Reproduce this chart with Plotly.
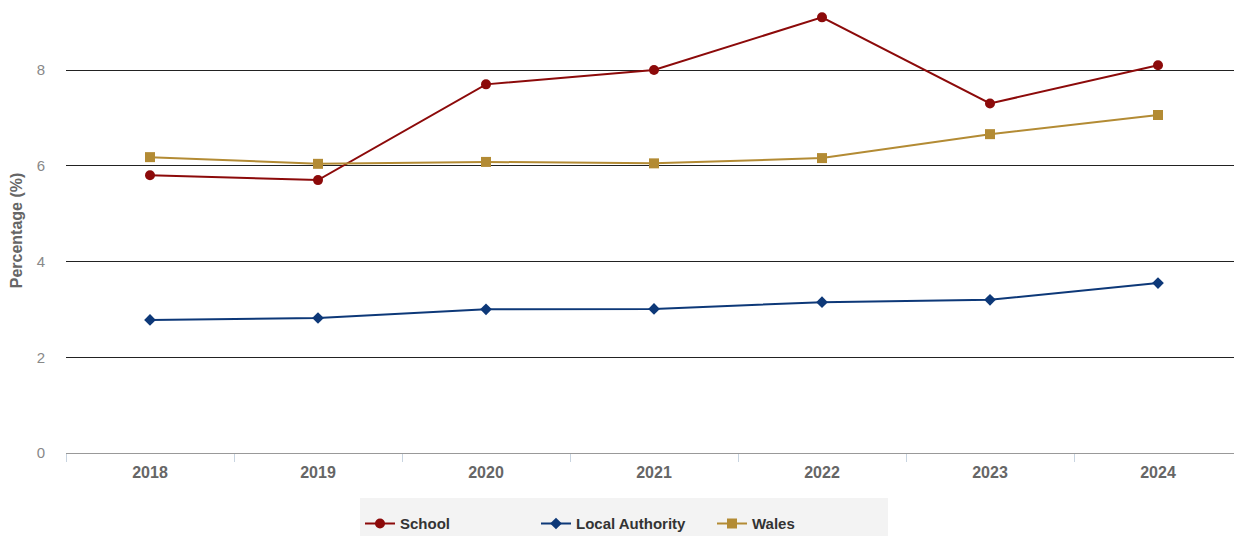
import plotly.graph_objects as go

years = ["2018", "2019", "2020", "2021", "2022", "2023", "2024"]
school = [5.8, 5.7, 7.7, 8.0, 9.1, 7.3, 8.1]
local_authority = [2.78, 2.82, 3.0, 3.01, 3.15, 3.2, 3.55]
wales = [6.18, 6.04, 6.08, 6.05, 6.16, 6.66, 7.06]

FONT = "Liberation Sans, Arial, sans-serif"

fig = go.Figure()
fig.add_trace(go.Scatter(x=years, y=school, name="School", mode="lines+markers",
                         line=dict(color="#8c0a0a", width=2),
                         marker=dict(symbol="circle", size=10, color="#8c0a0a")))
fig.add_trace(go.Scatter(x=years, y=local_authority, name="Local Authority", mode="lines+markers",
                         line=dict(color="#0d3878", width=2),
                         marker=dict(symbol="diamond", size=9, color="#0d3878")))
fig.add_trace(go.Scatter(x=years, y=wales, name="Wales", mode="lines+markers",
                         line=dict(color="#b38b34", width=2),
                         marker=dict(symbol="square", size=10, color="#b38b34")))

fig.update_layout(
    width=1242, height=536,
    margin=dict(l=58, r=8, t=0, b=91, autoexpand=False),
    paper_bgcolor="white", plot_bgcolor="white",
    font=dict(family=FONT, size=15, color="#666666"),
    showlegend=True,
    legend=dict(orientation="h", x=0.25, xanchor="left", y=-0.159, yanchor="middle",
                bgcolor="rgba(0,0,0,0)", entrywidth=131, entrywidthmode="pixels",
                font=dict(size=15, color="#333333", family=FONT, weight="bold"),
                itemclick=False),
    shapes=[dict(type="rect", xref="paper", yref="paper", x0=0.25, x1=0.699,
                 y0=-0.101, y1=-0.3, fillcolor="#f3f3f3", line=dict(width=0), layer="below")],
)
fig.update_xaxes(
    type="category", range=[-0.5, 6.5],
    showline=True, linecolor="#999999", linewidth=1,
    ticks="outside", tickson="boundaries", ticklen=8, tickcolor="#c8d4e0",
    showgrid=False, ticklabelstandoff=5,
    tickfont=dict(size=16, color="#666666", weight="bold"),
)
fig.update_yaxes(
    range=[0, 9.295], tickvals=[0, 2, 4, 6, 8],
    showgrid=True, gridcolor="#222222", gridwidth=1,
    zeroline=False, showline=False,
    tickfont=dict(size=15, color="#888888"),
    title=dict(text="Percentage (%)", font=dict(size=16, color="#666666", weight="bold"), standoff=12),
    ticklabelstandoff=20,
)

fig.write_html("out.html")
